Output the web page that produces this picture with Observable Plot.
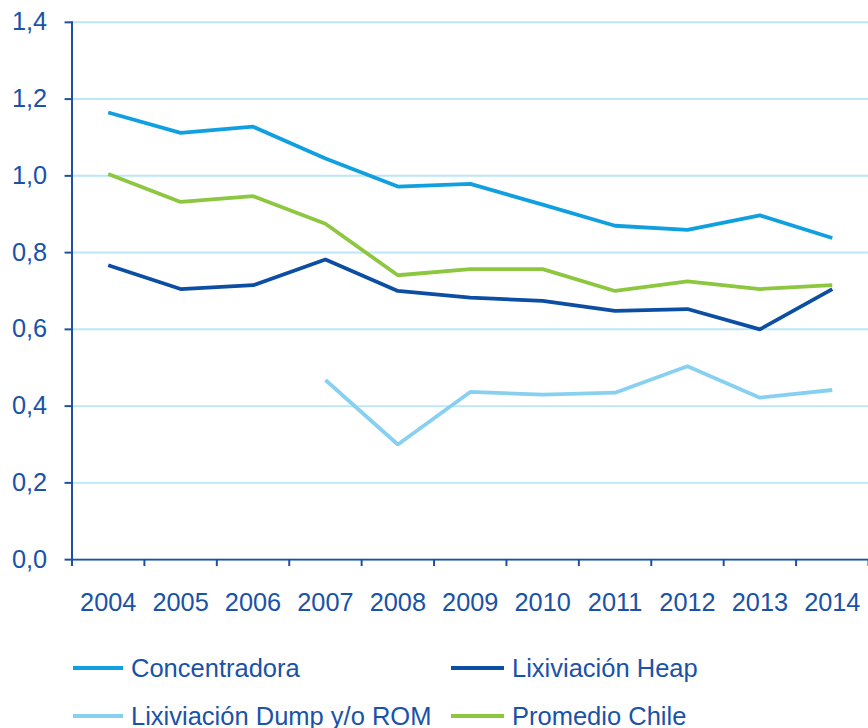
<!DOCTYPE html>
<html>
<head>
<meta charset="utf-8">
<script src="https://cdn.jsdelivr.net/npm/d3@7"></script>
<script src="https://cdn.jsdelivr.net/npm/@observablehq/plot@0.6"></script>
<style>
  html, body { margin: 0; padding: 0; background: #fff; overflow: hidden; width: 868px; height: 728px; }
  #chart { position: absolute; left: 0; top: 0; }
  .legend { position: absolute; left: 0; top: 0; font-family: "Liberation Sans", Arial, sans-serif; font-size: 25.5px; color: #1a52a8; }
  .item { position: absolute; display: flex; align-items: center; white-space: nowrap; height: 30px; }
  .sw { display: inline-block; height: 4px; margin-right: 8px; }
</style>
</head>
<body>
<div id="chart"></div>
<div class="legend" id="legend"></div>
<script>
const years = [2004, 2005, 2006, 2007, 2008, 2009, 2010, 2011, 2012, 2013, 2014];
const concentradora = [1.165, 1.112, 1.128, 1.045, 0.972, 0.979, 0.925, 0.870, 0.859, 0.897, 0.838];
const heap = [0.767, 0.705, 0.715, 0.782, 0.700, 0.683, 0.674, 0.648, 0.653, 0.600, 0.705];
const dump = [null, null, null, 0.468, 0.300, 0.437, 0.430, 0.435, 0.504, 0.422, 0.442];
const promedio = [1.005, 0.932, 0.947, 0.875, 0.741, 0.757, 0.757, 0.700, 0.725, 0.705, 0.715];
const seriesNames = ["Concentradora", "Lixiviación Heap", "Lixiviación Dump y/o ROM", "Promedio Chile"];
const seriesColors = ["#11a0df", "#0c4ea2", "#88d0f0", "#8dc63f"];
const yTicks = [0, 0.2, 0.4, 0.6, 0.8, 1.0, 1.2, 1.4];

const seriesValues = [concentradora, heap, dump, promedio];
const data = [];
seriesValues.forEach((vals, si) => {
  years.forEach((yr, i) => {
    if (vals[i] != null) data.push({ year: yr, value: vals[i], series: seriesNames[si] });
  });
});

const textColor = "#1a52a8";
const axisColor = "#1d50a2";
const bounds = d3.range(years[0] - 0.5, years[years.length - 1] + 1, 1);
const fmt = d => d3.format(".1f")(d).replace(".", ",");

const plot = Plot.plot({
  width: 874,
  height: 630,
  marginLeft: 72,
  marginRight: 0,
  marginTop: 22,
  marginBottom: 67,
  style: { fontFamily: "'Liberation Sans', Arial, sans-serif", fontSize: "25.5px", color: textColor, background: "transparent" },
  x: { domain: [years[0] - 0.5, years[years.length - 1] + 0.5] },
  y: { domain: [0, 1.4] },
  color: { domain: seriesNames, range: seriesColors },
  marks: [
    Plot.gridY(yTicks, { stroke: "#bde6f7", strokeOpacity: 1, strokeWidth: 2 }),
    Plot.frame({ anchor: "left", stroke: axisColor, strokeWidth: 2 }),
    Plot.frame({ anchor: "bottom", stroke: axisColor, strokeWidth: 2 }),
    Plot.axisY(yTicks, { tickSize: 7, tickPadding: 18, tickFormat: fmt, stroke: axisColor, strokeWidth: 2, fill: textColor, label: null }),
    Plot.axisX(bounds, { tickSize: 7, tickFormat: () => "", stroke: axisColor, strokeWidth: 2, label: null }),
    Plot.axisX(years, { tickSize: 0, tickPadding: 34, tickFormat: d => String(d), fill: textColor, label: null }),
    Plot.line(data, { x: "year", y: "value", z: "series", stroke: "series", strokeWidth: 3.8, strokeLinecap: "butt", strokeLinejoin: "miter" })
  ]
});
document.getElementById("chart").appendChild(plot);

const legendPos = [
  { left: 73, top: 653, sw: 50 },
  { left: 451, top: 653, sw: 53 },
  { left: 73, top: 701, sw: 50 },
  { left: 451, top: 701, sw: 53 }
];
const legend = document.getElementById("legend");
seriesNames.forEach((name, i) => {
  const it = document.createElement("div");
  it.className = "item";
  it.style.left = legendPos[i].left + "px";
  it.style.top = legendPos[i].top + "px";
  const sw = document.createElement("span");
  sw.className = "sw";
  sw.style.width = legendPos[i].sw + "px";
  sw.style.background = seriesColors[i];
  const tx = document.createElement("span");
  tx.textContent = name;
  it.appendChild(sw);
  it.appendChild(tx);
  legend.appendChild(it);
});
</script>
</body>
</html>
